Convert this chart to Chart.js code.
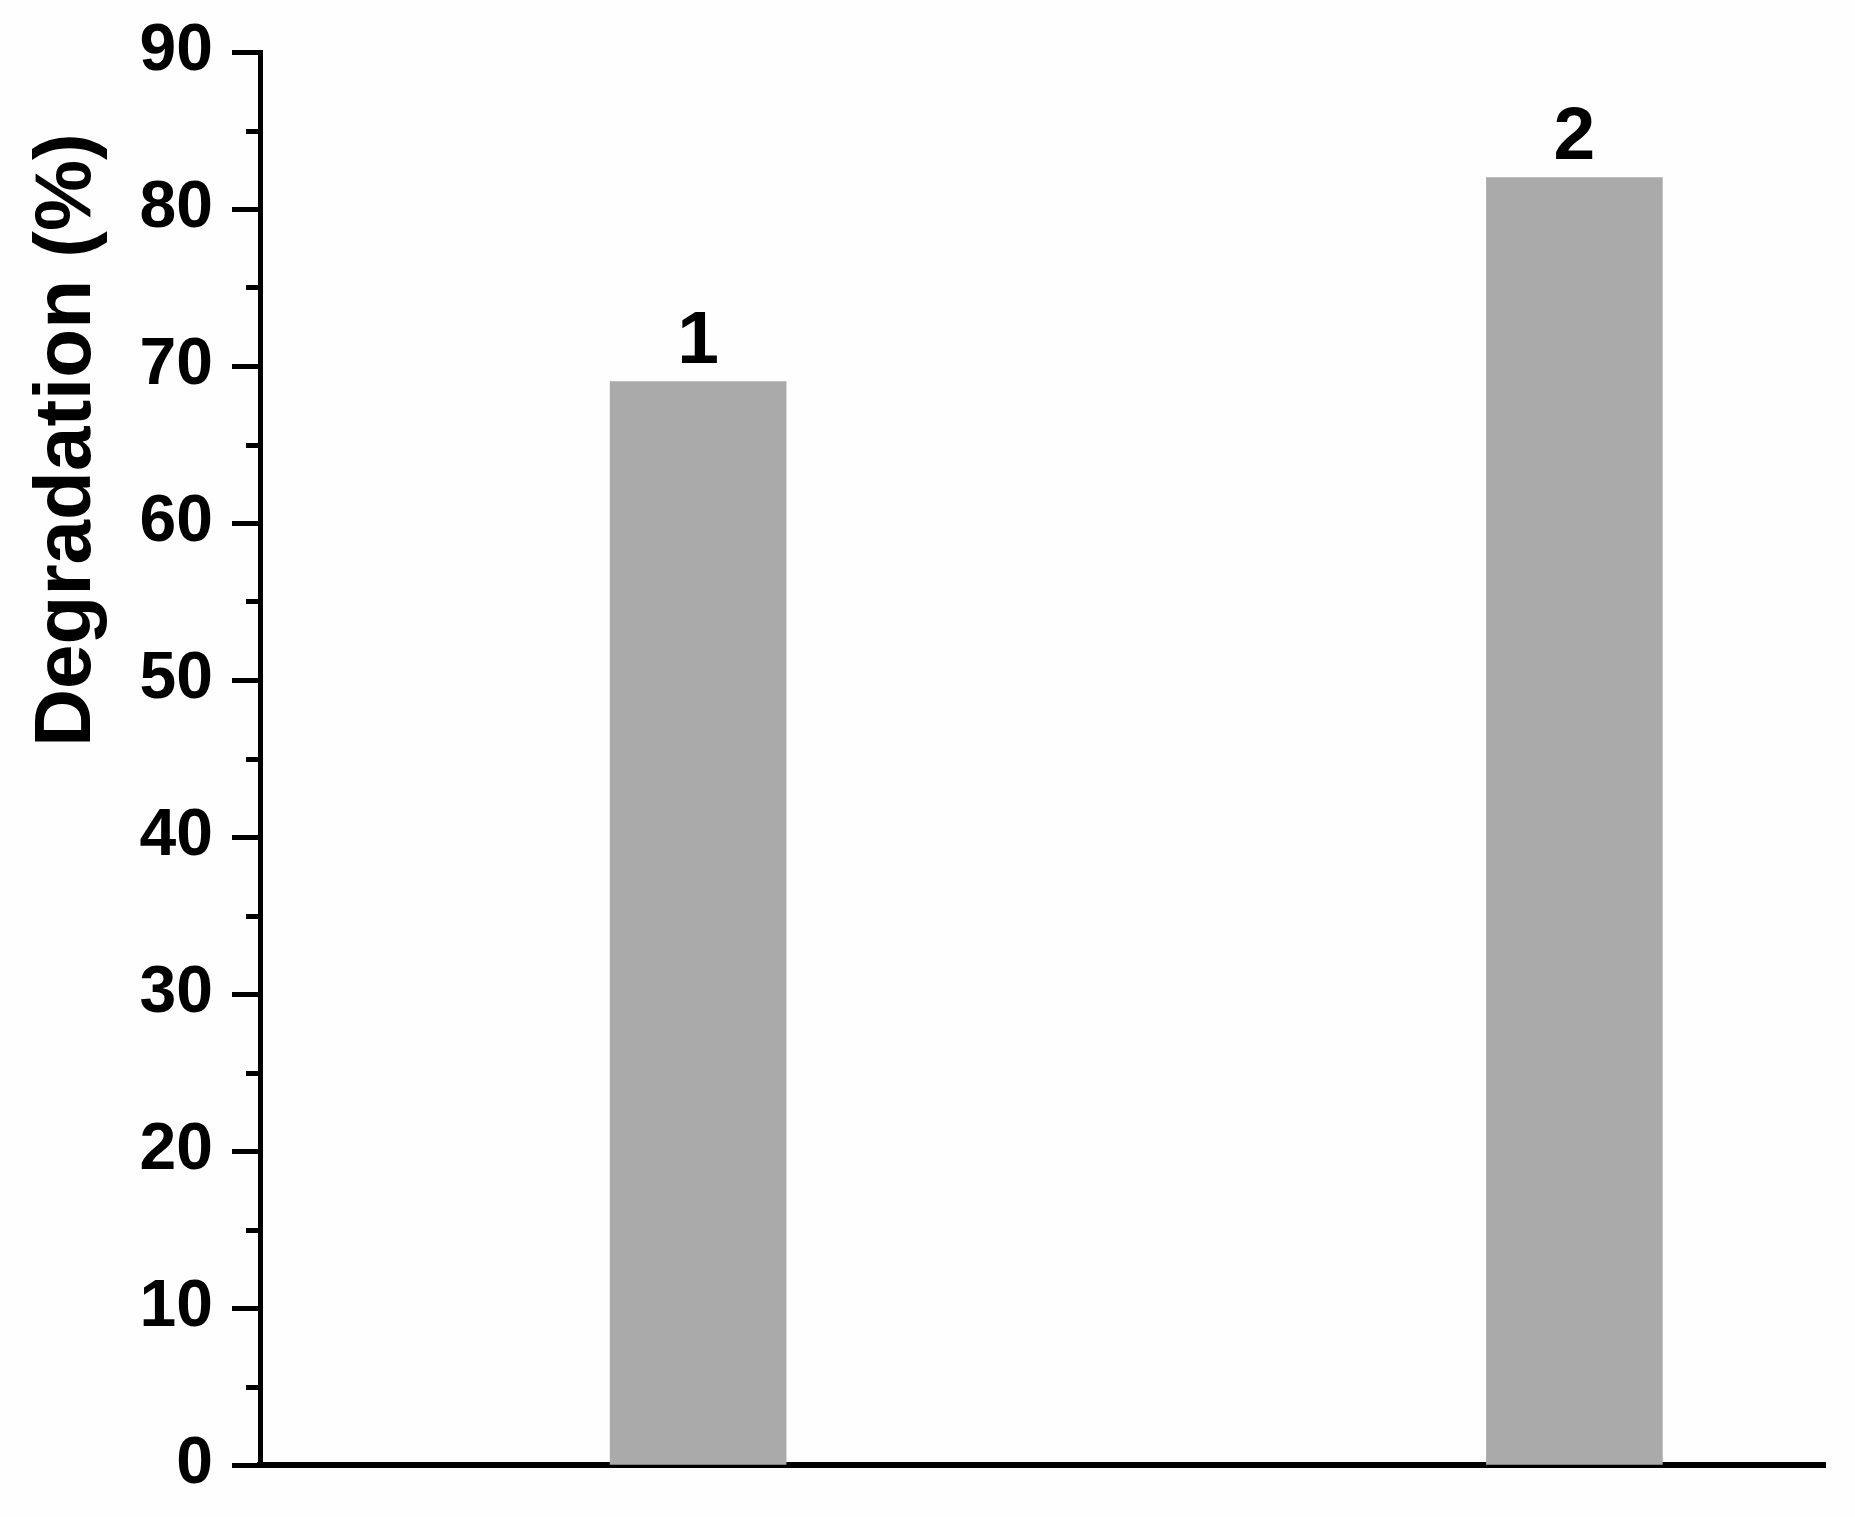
<!DOCTYPE html>
<html>
<head>
<meta charset="utf-8">
<title>Degradation</title>
<script src="https://cdn.jsdelivr.net/npm/chart.js@4.4.1/dist/chart.umd.min.js"></script>
<style>
  html, body { margin: 0; padding: 0; background: #fefefe; }
  #wrap { width: 1855px; height: 1517px; position: relative; }
</style>
</head>
<body>
<div id="wrap"><canvas id="degChart"></canvas></div>
<script>
// data
const categories = ["1", "2"];
const positions = [1, 2];
const degradation = [69, 82];
const yTicks = [0, 10, 20, 30, 40, 50, 60, 70, 80, 90];
const yMinorTicks = [5, 15, 25, 35, 45, 55, 65, 75, 85];
const yTitle = "Degradation (%)";

const FONT = "'Liberation Sans', Arial, sans-serif";

Chart.defaults.font.family = FONT;
Chart.defaults.color = "#000";

// minor ticks, rotated axis title and labels on top of bars
const extras = {
  id: "extras",
  afterDraw(chart) {
    const ctx = chart.ctx;
    const y = chart.scales.y;
    const area = chart.chartArea;
    ctx.save();
    ctx.strokeStyle = "#000";
    ctx.lineWidth = 5;
    yMinorTicks.forEach(v => {
      const py = Math.round(y.getPixelForValue(v)) + 0.5;
      ctx.beginPath();
      ctx.moveTo(area.left - 14, py);
      ctx.lineTo(area.left, py);
      ctx.stroke();
    });

    ctx.fillStyle = "#000";
    ctx.font = "bold 75px " + FONT;
    ctx.textAlign = "center";
    ctx.textBaseline = "alphabetic";
    const meta = chart.getDatasetMeta(0);
    meta.data.forEach((bar, i) => {
      ctx.fillText(categories[i], bar.x, bar.y - 19);
    });

    ctx.translate(90, 440);
    ctx.rotate(-Math.PI / 2);
    ctx.font = "bold 80px " + FONT;
    ctx.fillText(yTitle, 0, 0);
    ctx.restore();
  }
};

const data = {
  datasets: [
    {
      label: "Degradation",
      data: positions.map((x, i) => ({ x: x, y: degradation[i] })),
      backgroundColor: "#aaaaaa",
      borderWidth: 0,
      barThickness: 176,
    },
  ],
};

let config = {
  type: "bar",
  data: data,
  options: {
    responsive: true,
    maintainAspectRatio: false,
    animation: false,
    layout: {
      padding: { top: 52, right: 30, left: 0, bottom: 0 },
    },
    plugins: {
      legend: { display: false },
      tooltip: { enabled: false },
    },
    scales: {
      x: {
        type: "linear",
        min: 0.5,
        max: 2.286,
        offset: false,
        grid: { display: false },
        border: { display: true, color: "#000", width: 6 },
        ticks: { display: false },
        afterFit(scale) {
          scale.height = 52;
          scale.paddingLeft = 0;
          scale.paddingRight = 0;
        },
      },
      y: {
        min: 0,
        max: 90,
        afterBuildTicks(scale) {
          scale.ticks = yTicks.map(v => ({ value: v }));
        },
        grid: {
          drawOnChartArea: false,
          drawTicks: true,
          tickLength: 28,
          tickWidth: 5,
          tickColor: "#000",
        },
        border: { display: true, color: "#000", width: 5 },
        ticks: {
          padding: 19,
          color: "#000",
          font: { size: 66, weight: "bold" },
        },
        afterFit(scale) {
          scale.width = 260;
          scale.paddingTop = 0;
          scale.paddingBottom = 0;
        },
      },
    },
  },
  plugins: [extras],
};

const ctx = document.getElementById("degChart").getContext("2d");
let myChart = new Chart(ctx, config);
</script>
</body>
</html>
